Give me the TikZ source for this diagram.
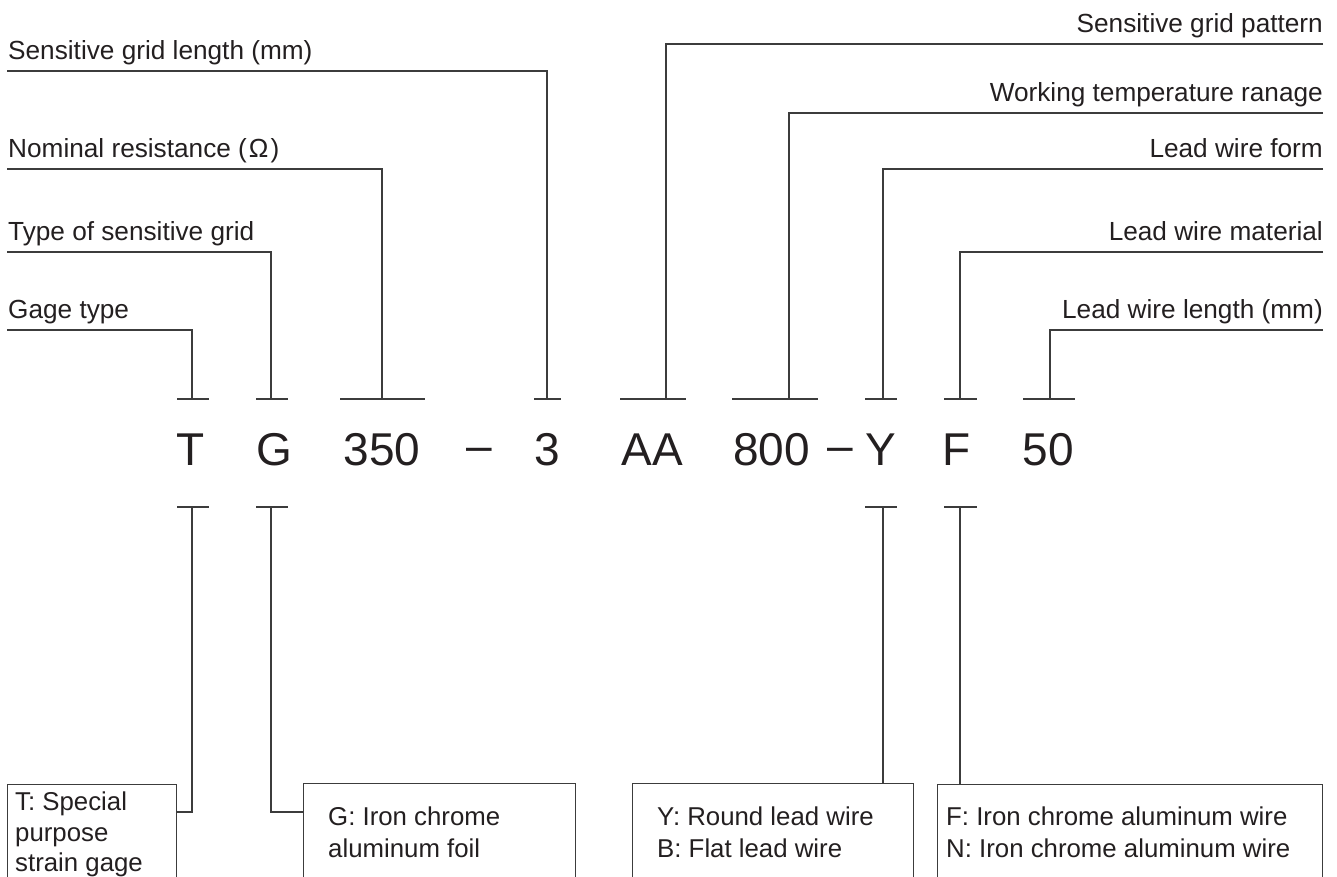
\documentclass[tikz,border=0pt]{standalone}
\usepackage{fontspec}
\setmainfont{Liberation Sans}
\definecolor{txt}{RGB}{35,31,32}
\definecolor{ln}{RGB}{60,60,60}
\begin{document}
\begin{tikzpicture}[x=1pt,y=-1pt,
  lbl/.style={inner sep=0, font=\fontsize{26.2}{30}\selectfont, text=txt},
  btxt/.style={inner sep=0, font=\fontsize{25.8}{30}\selectfont, text=txt},
  code/.style={inner sep=0, anchor=base, font=\fontsize{46}{50}\selectfont, text=txt},
  bar/.style={line width=1.8pt, draw=ln},
  conn/.style={line width=1.2pt, draw=ln},
  gbox/.style={draw=ln, line width=1.2pt, fill=none, inner sep=0, anchor=north west}]
\useasboundingbox (0,0) rectangle (1337,876);
\clip (0,0) rectangle (1337,876);

% ---------- code row ----------
\node[code] (cT)   at (191,465)   {T};
\node[code] (cG)   at (274,465)   {G};
\node[code] (c350) at (382,465)   {350};
\node[code] (cd1)  at (479,461)   {–};
\node[code] (c3)   at (547.5,465) {3};
\node[code] (cAA)  at (652.5,465) {AA};
\node[code] (c800) at (771.5,465) {800};
\node[code] (cd2)  at (840.5,461) {–};
\node[code] (cY)   at (881,465)   {Y};
\node[code] (cF)   at (957,465)   {F};
\node[code] (c50)  at (1048.5,465){50};

% ---------- tick points (upper) ----------
\coordinate (uT)   at (192,399);
\coordinate (uG)   at (271,399);
\coordinate (u350) at (382,399);
\coordinate (u3)   at (547,399);
\coordinate (uAA)  at (666,399);
\coordinate (u800) at (789,399);
\coordinate (uY)   at (883,399);
\coordinate (uF)   at (960,399);
\coordinate (u50)  at (1050,399);

\draw[bar] ([xshift=-15pt]uT)   -- ([xshift=17pt]uT);
\draw[bar] ([xshift=-15pt]uG)   -- ([xshift=17pt]uG);
\draw[bar] ([xshift=-42pt]u350) -- ([xshift=43pt]u350);
\draw[bar] ([xshift=-13pt]u3)   -- ([xshift=14pt]u3);
\draw[bar] ([xshift=-46pt]uAA)  -- ([xshift=20pt]uAA);
\draw[bar] ([xshift=-57pt]u800) -- ([xshift=29pt]u800);
\draw[bar] ([xshift=-18pt]uY)   -- ([xshift=14pt]uY);
\draw[bar] ([xshift=-16pt]uF)   -- ([xshift=17pt]uF);
\draw[bar] ([xshift=-27pt]u50)  -- ([xshift=25pt]u50);

% ---------- tick points (lower) ----------
\coordinate (dT) at (192,507);
\coordinate (dG) at (271,507);
\coordinate (dY) at (883,507);
\coordinate (dF) at (960,507);
\draw[bar] ([xshift=-15pt]dT) -- ([xshift=17pt]dT);
\draw[bar] ([xshift=-15pt]dG) -- ([xshift=17pt]dG);
\draw[bar] ([xshift=-18pt]dY) -- ([xshift=14pt]dY);
\draw[bar] ([xshift=-16pt]dF) -- ([xshift=17pt]dF);

% ---------- left labels ----------
\node[lbl, anchor=base west] (lLen)  at (8,59)  {Sensitive grid length (mm)};
\node[lbl, anchor=base west] (lNom)  at (8,157) {Nominal resistance (\kern2pt Ω\kern2pt)};
\node[lbl, anchor=base west] (lTyp)  at (8,240) {Type of sensitive grid};
\node[lbl, anchor=base west] (lGag)  at (8,318) {Gage type};
\coordinate (sLen) at (7,71);
\coordinate (sNom) at (7,169);
\coordinate (sTyp) at (7,252);
\coordinate (sGag) at (7,330);
\draw[conn] (sLen) -| (u3);
\draw[conn] (sNom) -| (u350);
\draw[conn] (sTyp) -| (uG);
\draw[conn] (sGag) -| (uT);

% ---------- right labels ----------
\node[lbl, anchor=base east] (rPat) at (1323,32)  {Sensitive grid pattern};
\node[lbl, anchor=base east] (rTmp) at (1323,101) {Working temperature ranage};
\node[lbl, anchor=base east] (rFrm) at (1323,157) {Lead wire form};
\node[lbl, anchor=base east] (rMat) at (1323,240) {Lead wire material};
\node[lbl, anchor=base east] (rLen) at (1323,318) {Lead wire length (mm)};
\coordinate (ePat) at (1323,44);
\coordinate (eTmp) at (1323,113);
\coordinate (eFrm) at (1323,169);
\coordinate (eMat) at (1323,252);
\coordinate (eLen) at (1323,330);
\draw[conn] (ePat) -| (uAA);
\draw[conn] (eTmp) -| (u800);
\draw[conn] (eFrm) -| (uY);
\draw[conn] (eMat) -| (uF);
\draw[conn] (eLen) -| (u50);

% ---------- bottom boxes ----------
\node[gbox, minimum width=169pt, minimum height=150pt] (bT) at (7,784)   {};
\node[gbox, minimum width=272pt, minimum height=150pt] (bG) at (303,783) {};
\node[gbox, minimum width=281pt, minimum height=150pt] (bY) at (632,783) {};
\node[gbox, minimum width=385pt, minimum height=150pt] (bF) at (937,784) {};

\node[btxt, anchor=base west] (tT1) at (15,810) {T: Special};
\node[btxt, anchor=base west] (tT2) at (15,841) {purpose};
\node[btxt, anchor=base west] (tT3) at (15,871) {strain gage};

\node[btxt, anchor=base west] (tG1) at (328,825) {G: Iron chrome};
\node[btxt, anchor=base west] (tG2) at (328,857) {aluminum foil};

\node[btxt, anchor=base west] (tY1) at (657,825) {Y: Round lead wire};
\node[btxt, anchor=base west] (tY2) at (657,857) {B: Flat lead wire};

\node[btxt, anchor=base west] (tF1) at (946,825) {F: Iron chrome aluminum wire};
\node[btxt, anchor=base west] (tF2) at (946,857) {N: Iron chrome aluminum wire};

% ---------- lower connectors ----------
\draw[conn] (dT) |- (bT.east |- 0,812);
\draw[conn] (dG) |- (bG.west |- 0,812);
\draw[conn] (dY) -- (bY.north -| dY);
\draw[conn] (dF) -- (bF.north -| dF);
\end{tikzpicture}
\end{document}
